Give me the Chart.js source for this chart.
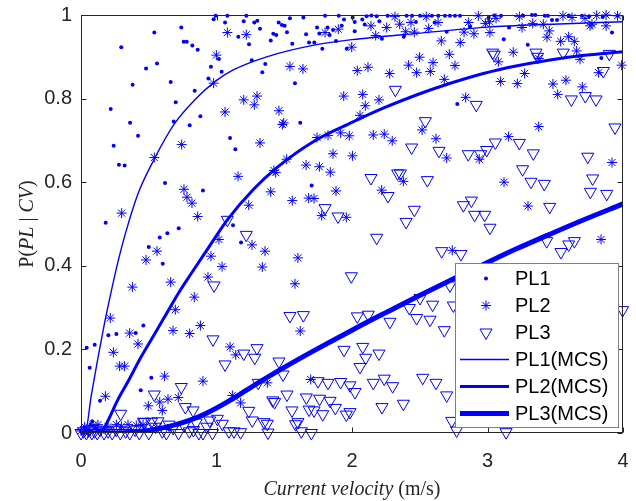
<!DOCTYPE html>
<html><head><meta charset="utf-8">
<script src="https://cdn.jsdelivr.net/npm/chart.js@4.4.0/dist/chart.umd.min.js"></script>
<style>html,body{margin:0;padding:0;background:#fff;}#wrap{width:636px;height:501px;position:relative;}</style>
</head><body><div id="wrap"><canvas id="c" width="636" height="501"></canvas></div>
<script>
const xTickValues = [0, 1, 2, 3, 4];
const xTickLabels = ['0', '1', '2', '3', '4'];
const yTickValues = [0, 0.2, 0.4, 0.6, 0.8, 1];
const yTickLabels = ['0', '0.2', '0.4', '0.6', '0.8', '1'];
const seriesNames = ['PL1', 'PL2', 'PL3', 'PL1(MCS)', 'PL2(MCS)', 'PL3(MCS)'];

// PL1 samples (dots) [velocity, probability]
const pl1Points = [
[0.297,0.923],[0.541,0.958],[0.740,0.970],[0.758,0.936],[0.780,0.936],[0.822,0.927],[0.861,0.917],[0.561,0.884],[0.480,0.872],[0.959,0.876],[0.381,0.833],[0.662,0.840],[0.940,0.848],[0.219,0.775],[0.699,0.791],[0.839,0.819],[0.362,0.742],[0.421,0.711],[0.684,0.745],[0.802,0.736],[0.881,0.758],[0.241,0.687],[0.280,0.642],[0.322,0.640],[0.620,0.598],[0.900,0.580],[0.182,0.503],[0.979,0.990],
[0.994,0.998],[1.080,0.998],[1.220,0.998],[1.063,0.982],[1.201,0.985],[1.279,0.982],[1.301,0.986],[1.542,0.992],[1.641,0.994],[1.801,0.998],[1.902,0.998],[1.941,0.989],[1.321,0.967],[1.459,0.982],[1.483,0.976],[1.503,0.974],[1.520,0.959],[1.419,0.955],[1.441,0.952],[1.161,0.948],[1.240,0.930],[1.400,0.939],[1.559,0.931],[1.661,0.954],[1.683,0.934],[1.722,0.934],[1.742,0.970],[1.759,0.956],[1.820,0.970],[1.835,0.952],[1.860,0.964],[1.882,0.938],[1.924,0.974],[1.781,0.919],[1.961,0.919],[1.018,0.895],[1.260,0.892],[1.360,0.883],[1.038,0.864],[1.338,0.863],[1.579,0.837],[1.618,0.742],[1.100,0.706],[1.139,0.679],[1.702,0.592],
[2.005,0.994],[2.020,0.983],[2.076,0.989],[2.094,0.977],[2.108,0.997],[2.143,0.999],[2.182,0.997],[2.020,0.961],[2.202,0.985],[2.263,0.998],[2.403,0.998],[2.443,0.998],[2.502,0.998],[2.590,0.998],[2.637,0.998],[2.686,0.998],[2.723,0.998],[2.760,0.998],[2.797,0.998],[2.221,0.943],[2.382,0.948],[2.699,0.960],[2.472,0.983],[2.610,0.982],[2.871,0.972],[2.777,0.787],
[3.009,0.994],[3.050,0.999],[3.100,0.998],[3.264,0.998],[3.328,1.000],[3.353,1.000],[3.422,0.998],[3.446,0.998],[3.476,0.988],[3.513,0.988],[3.120,0.942],[3.297,0.929],[3.919,0.958],[3.159,0.970],[3.840,0.897],[3.600,0.999],[3.697,0.998],[3.750,0.997],[3.850,0.995],[3.960,0.998],
[0.637,0.478],[0.581,0.468],[0.721,0.490],[0.500,0.445],[0.603,0.405],[0.460,0.257],[0.404,0.239],[0.261,0.237],[0.202,0.234],[0.101,0.211],[0.042,0.204],[0.064,0.156],[0.519,0.132],[0.441,0.102],[0.140,0.077],[0.083,0.028],[1.122,0.497],[1.181,0.456],
[0.010,0.000],[0.030,0.010],[0.050,0.005],[0.070,0.020],[0.110,0.010]
];

// PL2 samples (asterisks)
const pl2Points = [
[0.999,0.904],[0.979,0.837],[0.743,0.690],[0.541,0.659],[0.760,0.583],[0.782,0.564],[0.819,0.550],[0.861,0.518],[0.300,0.526],
[1.080,0.958],[1.220,0.953],[1.801,0.958],[1.899,0.966],[1.998,0.923],[1.542,0.877],[1.638,0.871],[1.939,0.806],[1.201,0.797],[1.299,0.806],[1.279,0.785],[1.063,0.768],[1.461,0.771],[1.486,0.738],[1.496,0.742],[1.321,0.694],[1.742,0.707],[1.823,0.712],[1.916,0.718],[1.980,0.711],[1.860,0.668],[1.518,0.655],[1.661,0.641],[1.759,0.637],[1.840,0.624],[2.003,0.663],[1.424,0.628],[1.437,0.623],[1.159,0.614],[1.400,0.577],[1.882,0.579],[1.559,0.556],[1.680,0.562],[1.720,0.561],[1.238,0.545],[1.776,0.520],[1.958,0.516],
[2.140,0.974],[2.256,0.970],[2.317,0.996],[2.352,0.978],[2.435,0.982],[2.396,0.960],[2.460,0.959],[2.548,0.996],[2.566,0.968],[2.635,0.982],[2.175,0.951],[2.827,0.959],[2.900,0.955],[2.861,0.982],[2.932,0.998],[2.984,0.980],[2.659,0.938],[2.799,0.934],[2.718,0.906],[2.499,0.899],[2.418,0.880],[2.598,0.886],[2.760,0.879],[2.118,0.875],[2.039,0.867],[2.278,0.860],[2.477,0.862],[2.578,0.865],[2.681,0.846],[2.079,0.810],[2.199,0.797],[2.098,0.783],[2.059,0.760],[2.839,0.803],[2.157,0.713],[2.238,0.715],[2.297,0.699],[2.517,0.725],[2.620,0.704],[2.699,0.658],[2.939,0.655],[2.379,0.602],[2.219,0.581],
[3.014,0.984],[3.063,0.992],[3.018,0.958],[3.235,0.996],[3.255,0.970],[3.334,0.980],[3.412,0.978],[3.439,0.947],[3.456,0.962],[3.557,0.998],[3.624,0.994],[3.720,0.992],[3.771,0.978],[3.757,0.974],[3.806,0.999],[3.875,1.000],[3.960,0.998],[3.875,0.974],[3.540,0.937],[3.599,0.948],[3.641,0.937],[3.658,0.914],[3.683,0.894],[3.080,0.888],[3.190,0.911],[3.378,0.896],[3.274,0.860],[3.990,0.880],[3.820,0.862],[3.097,0.841],[3.220,0.836],[3.483,0.835],[3.579,0.844],[3.700,0.828],[3.518,0.810],[3.378,0.733],[3.156,0.709],[3.919,0.647],[3.122,0.600],[3.299,0.543],
[0.561,0.435],[0.480,0.414],[0.379,0.349],[0.662,0.361],[0.836,0.325],[0.696,0.295],[0.216,0.275],[0.359,0.239],[0.421,0.213],[0.239,0.193],[0.285,0.160],[0.322,0.160],[0.679,0.245],[0.802,0.238],[0.881,0.257],[0.959,0.423],[0.937,0.373],[0.617,0.136],[0.900,0.124],[0.180,0.088],[0.497,0.065],[0.581,0.074],[0.600,0.054],[0.642,0.081],[0.718,0.085],
[0.000,0.005],[0.027,0.015],[0.050,0.000],[0.089,0.018],[0.125,0.020],[0.150,0.005],[0.199,0.015],[0.261,0.020],[0.298,0.016],[0.347,0.020],[0.408,0.018],[0.458,0.020],[0.560,0.012],
[1.018,0.463],[1.262,0.450],[1.358,0.435],[1.041,0.398],[1.338,0.397],[1.601,0.419],[1.579,0.357],[1.618,0.244],[1.100,0.206],[1.142,0.187],[1.375,0.120],[1.695,0.128],[1.117,0.090],[1.178,0.072],[2.740,0.437],[3.838,0.463]
];

// PL3 samples (triangles)
const pl3Points = [
[1.080,0.510],[1.801,0.538],[1.897,0.518],
[2.320,0.821],[2.917,0.785],[2.541,0.746],[2.440,0.683],[2.642,0.675],[2.858,0.667],[2.950,0.667],[2.994,0.677],[2.140,0.610],[2.337,0.621],[2.357,0.621],[2.556,0.605],[2.266,0.567],[2.460,0.534],[2.822,0.545],[2.881,0.556],[2.905,0.522],[2.979,0.522],[2.399,0.505],
[3.038,0.910],[3.050,0.905],[3.358,0.910],[3.370,0.900],[3.559,0.910],[3.899,0.907],[3.855,0.866],[3.619,0.798],[3.722,0.806],[3.801,0.798],[3.941,0.731],[3.058,0.695],[3.235,0.694],[3.338,0.669],[3.740,0.661],[3.259,0.631],[3.776,0.609],[3.321,0.601],[3.419,0.596],[3.759,0.577],[3.880,0.572],[3.459,0.541],[3.018,0.491],
[0.982,0.353],[0.740,0.110],[0.541,0.092],[0.293,0.046],[0.974,0.224],[0.770,0.062],[0.827,0.054],[0.568,0.028],[0.470,0.026],
[1.220,0.474],[1.542,0.280],[1.641,0.282],[1.995,0.375],[1.201,0.190],[1.299,0.203],[1.282,0.180],[1.063,0.164],[1.461,0.171],[1.491,0.140],[1.941,0.199],[1.308,0.120],[1.415,0.078],[1.429,0.074],[1.520,0.092],[1.663,0.085],[1.749,0.124],[1.823,0.120],[1.916,0.122],[1.985,0.114],[1.761,0.082],[1.838,0.077],[1.877,0.060],[1.238,0.053],[1.557,0.054],[1.683,0.056],[1.720,0.054],[1.784,0.045],[1.958,0.044],[1.264,0.030],[1.351,0.026],[1.375,0.022],[1.584,0.021],[1.601,0.026],[1.626,0.004],[1.700,0.000],[1.006,0.034],[1.043,0.022],[1.092,0.004],[1.129,0.004],[1.178,0.002],[1.380,0.001],
[2.182,0.467],[2.662,0.435],[2.804,0.428],[2.723,0.353],[2.502,0.323],[2.423,0.299],[2.595,0.307],[2.477,0.275],[2.576,0.271],[2.748,0.305],[2.681,0.246],[2.039,0.279],[2.120,0.283],[2.280,0.266],[2.079,0.206],[2.101,0.180],[2.059,0.158],[2.199,0.190],[2.022,0.098],[2.157,0.120],[2.238,0.130],[2.300,0.112],[2.522,0.132],[2.620,0.120],[2.699,0.090],[2.221,0.062],[2.379,0.070],[1.985,0.050],[2.736,0.029],[2.772,0.006],
[3.437,0.459],[3.542,0.433],[3.599,0.451],[3.641,0.459],[3.997,0.294],[3.137,0.002],
[0.000,0.000],[0.020,0.004],[0.040,0.000],[0.060,0.008],[0.080,0.000],[0.100,0.004],[0.120,0.000],[0.140,0.008],[0.170,0.000],[0.200,0.004],[0.230,0.000],[0.260,0.008],[0.290,0.000],[0.330,0.004],[0.360,0.000],[0.400,0.008],[0.430,0.000],[0.460,0.027],[0.520,0.027],[0.500,0.000],[0.550,0.015],[0.600,0.004],[0.630,0.000],[0.650,0.020],[0.680,0.012],[0.720,0.000],[0.760,0.018],[0.800,0.004],[0.830,0.007],[0.850,0.025],[0.870,0.000],[0.900,0.000],[0.930,0.015],[0.950,0.030],[0.970,0.000]
];

// MCS curves
const pl1McsX = [0, 0.03, 0.076, 0.125, 0.175, 0.224, 0.273, 0.33, 0.42, 0.54, 0.69, 0.84, 0.986, 1.12, 1.37, 1.72, 2.0, 2.48, 3.0, 3.48, 4.0];
const pl1McsY = [0, 0, 0.09, 0.18, 0.265, 0.34, 0.41, 0.48, 0.572, 0.655, 0.74, 0.797, 0.84, 0.868, 0.9, 0.928, 0.941, 0.956, 0.971, 0.978, 0.984];
const pl2McsX = [0, 0.14, 0.2, 0.265, 0.35, 0.44, 0.54, 0.63, 0.72, 0.8, 0.93, 1.08, 1.27, 1.45, 1.72, 2.0, 2.23, 2.47, 2.72, 2.97, 3.21, 3.45, 3.7, 4.0];
const pl2McsY = [0, 0, 0.03, 0.075, 0.125, 0.18, 0.235, 0.285, 0.335, 0.375, 0.438, 0.51, 0.582, 0.636, 0.698, 0.743, 0.777, 0.808, 0.836, 0.86, 0.878, 0.892, 0.903, 0.912];
const pl3McsX = [0, 0.3, 0.45, 0.63, 0.8, 0.93, 1.1, 1.228, 1.474, 1.72, 2.0, 2.25, 2.48, 2.75, 3.0, 3.21, 3.45, 3.68, 4.0];
const pl3McsY = [0, 0, 0.004, 0.014, 0.03, 0.048, 0.078, 0.104, 0.152, 0.197, 0.246, 0.288, 0.326, 0.369, 0.408, 0.44, 0.474, 0.506, 0.548];

const BLUE = '#0000ff';
const AXIS = '#262626';
const toXY = (pts) => pts.map(p => ({x: p[0], y: p[1]}));
const zipXY = (xs, ys) => xs.map((x, i) => ({x: x, y: ys[i]}));

const markerStyles = [
  {pointStyle: 'circle', radius: 2, rotation: 0, borderWidth: 0, fill: BLUE},
  {pointStyle: 'star', radius: 5, rotation: 0, borderWidth: 1, fill: BLUE},
  {pointStyle: 'triangle', radius: 7, rotation: 180, borderWidth: 1, fill: 'rgba(0,0,0,0)'}
];
const lineWidths = [1.4, 3, 5];

function scatterSet(i, pts) {
  const m = markerStyles[i];
  return {
    label: seriesNames[i], data: toXY(pts), showLine: false,
    pointStyle: m.pointStyle, pointRadius: m.radius, pointRotation: m.rotation,
    pointBorderWidth: m.borderWidth, pointBorderColor: BLUE, pointBackgroundColor: m.fill,
    pointHoverRadius: m.radius, clip: false, order: 10
  };
}
function lineSet(i, xs, ys) {
  return {
    label: seriesNames[i + 3], data: zipXY(xs, ys), showLine: true,
    borderColor: BLUE, borderWidth: lineWidths[i], pointRadius: 0, pointHoverRadius: 0,
    cubicInterpolationMode: 'monotone', fill: false, borderCapStyle: 'butt', order: 1
  };
}

const frameAndTitles = {
  id: 'frameAndTitles',
  afterDraw(chart) {
    const ctx = chart.ctx;
    const a = chart.chartArea;
    const xs = chart.scales.x, ys = chart.scales.y;
    const L = Math.round(a.left) + 0.5, R = Math.round(a.right) - 0.5;
    const T = Math.round(a.top) + 0.5, B = Math.round(a.bottom) - 0.5;
    ctx.save();
    ctx.strokeStyle = AXIS; ctx.lineWidth = 1;
    ctx.strokeRect(L, T, R - L, B - T);
    const tl = 5;
    ctx.beginPath();
    xTickValues.forEach(v => {
      const px = Math.round(xs.getPixelForValue(v)) + 0.5;
      ctx.moveTo(px, B); ctx.lineTo(px, B - tl);
      ctx.moveTo(px, T); ctx.lineTo(px, T + tl);
    });
    yTickValues.forEach(v => {
      const py = Math.round(ys.getPixelForValue(v)) + 0.5;
      ctx.moveTo(L, py); ctx.lineTo(L + tl, py);
      ctx.moveTo(R, py); ctx.lineTo(R - tl, py);
    });
    ctx.stroke();

    // x title: italic "Current velocity" + upright " (m/s)"
    ctx.fillStyle = AXIS;
    ctx.textBaseline = 'alphabetic';
    const fI = 'italic 20px "Liberation Serif", "Times New Roman", serif';
    const fR = '20px "Liberation Serif", "Times New Roman", serif';
    const p1 = 'Current velocity', p2 = ' (m/s)';
    ctx.font = fI; const w1 = ctx.measureText(p1).width;
    ctx.font = fR; const w2 = ctx.measureText(p2).width;
    let x0 = (a.left + a.right) / 2 - (w1 + w2) / 2;
    ctx.textAlign = 'left';
    ctx.font = fI; ctx.fillText(p1, x0, 495);
    ctx.font = fR; ctx.fillText(p2, x0 + w1, 495);

    // y title: "P(" + italic "PL|CV" + ")"
    const parts = [['P(', fR], ['PL', fI], [' | ', fR], ['CV', fI], [')', fR]];
    let tot = 0;
    const ws = parts.map(p => { ctx.font = p[1]; const w = ctx.measureText(p[0]).width; tot += w; return w; });
    ctx.translate(33, (a.top + a.bottom) / 2);
    ctx.rotate(-Math.PI / 2);
    let cx = -tot / 2;
    parts.forEach((p, i) => { ctx.font = p[1]; ctx.fillText(p[0], cx, 0); cx += ws[i]; });
    ctx.restore();

    // legend box
    ctx.save();
    const bx = 455.5, by = 263.5, bw = 163, bh = 164;
    ctx.fillStyle = '#ffffff';
    ctx.fillRect(bx, by, bw, bh);
    ctx.strokeStyle = '#7f7f7f'; ctx.lineWidth = 1;
    ctx.strokeRect(bx, by, bw, bh);
    const rowY0 = 278.5, rowH = 27;
    ctx.font = '20px "Liberation Sans", Arial, sans-serif';
    ctx.textBaseline = 'middle'; ctx.textAlign = 'left';
    seriesNames.forEach((name, i) => {
      const cy = rowY0 + i * rowH;
      if (i < 3) {
        const m = markerStyles[i];
        ctx.save();
        ctx.strokeStyle = BLUE; ctx.fillStyle = m.fill; ctx.lineWidth = m.borderWidth || 0.0001;
        Chart.helpers.drawPoint(ctx, {pointStyle: m.pointStyle, radius: m.radius, rotation: m.rotation, borderWidth: m.borderWidth}, 486, cy);
        ctx.restore();
      } else {
        ctx.save();
        ctx.strokeStyle = BLUE; ctx.lineWidth = lineWidths[i - 3];
        ctx.beginPath(); ctx.moveTo(460, cy); ctx.lineTo(509, cy); ctx.stroke();
        ctx.restore();
      }
      ctx.fillStyle = '#000000';
      ctx.fillText(name, 515, cy + 1);
    });
    ctx.restore();
  }
};

new Chart(document.getElementById('c'), {
  type: 'scatter',
  data: {
    datasets: [
      lineSet(0, pl1McsX, pl1McsY),
      lineSet(1, pl2McsX, pl2McsY),
      lineSet(2, pl3McsX, pl3McsY),
      scatterSet(0, pl1Points),
      scatterSet(1, pl2Points),
      scatterSet(2, pl3Points)
    ]
  },
  options: {
    responsive: false, animation: false, devicePixelRatio: 1,
    layout: {autoPadding: false, padding: {left: 0, right: 13, top: 15, bottom: 0}},
    plugins: {legend: {display: false}, tooltip: {enabled: false}},
    scales: {
      x: {
        type: 'linear', min: 0, max: 4,
        grid: {display: false, drawTicks: false}, border: {display: false},
        afterBuildTicks: s => { s.ticks = xTickValues.map(v => ({value: v})); },
        afterFit: s => { s.height = 68; s.paddingLeft = 0; s.paddingRight = 0; },
        ticks: {padding: 16, color: AXIS, font: {family: '"Liberation Sans", Arial, sans-serif', size: 20},
          callback: (v, i) => xTickLabels[i], maxRotation: 0}
      },
      y: {
        type: 'linear', min: 0, max: 1,
        grid: {display: false, drawTicks: false}, border: {display: false},
        afterBuildTicks: s => { s.ticks = yTickValues.map(v => ({value: v})); },
        afterFit: s => { s.width = 81; s.paddingTop = 0; s.paddingBottom = 0; },
        ticks: {padding: 9, color: AXIS, font: {family: '"Liberation Sans", Arial, sans-serif', size: 20},
          callback: (v, i) => yTickLabels[i]}
      }
    }
  },
  plugins: [frameAndTitles]
});
</script></body></html>
